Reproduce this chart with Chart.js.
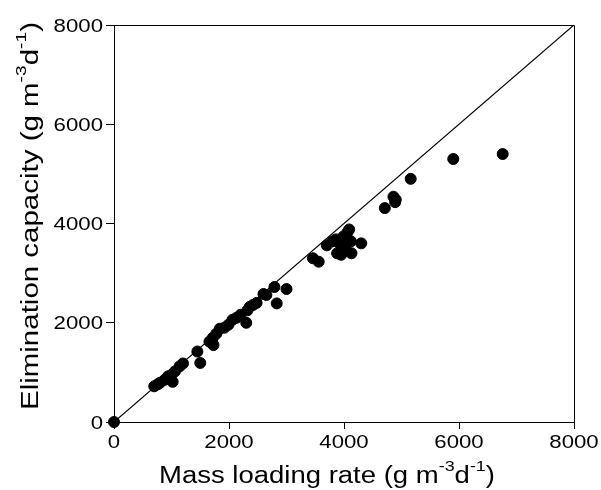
<!DOCTYPE html>
<html>
<head>
<meta charset="utf-8">
<script src="https://cdn.jsdelivr.net/npm/chart.js@4.4.1/dist/chart.umd.min.js"></script>
<style>
  html, body { margin: 0; padding: 0; background: #fff; }
  #wrap { width: 601px; height: 490px; }
</style>
</head>
<body>
<div id="wrap"><canvas id="chart" width="601" height="490"></canvas></div>
<script>
// --- DATA ---
const massLoading = [
  0,
  700, 760, 800, 880, 940, 1000, 1020, 1060, 1140, 1200,
  1450, 1500, 1660, 1730, 1720, 1780, 1840, 1920, 1990, 2060, 2130, 2200, 2300, 2320, 2360, 2420, 2480,
  2600, 2650, 2790, 2830, 3000,
  3460, 3560, 3700, 3800, 3860, 3880, 3920, 3950, 3990, 4000, 4040, 4060, 4090, 4120, 4130, 4300,
  4710, 4860, 4890, 4900, 5160, 5900, 6760
];
const eliminationCap = [
  0,
  720, 760, 790, 850, 920, 950, 810, 1020, 1120, 1180,
  1420, 1190, 1620, 1550, 1700, 1780, 1880, 1900, 1960, 2060, 2100, 2160, 2000, 2250, 2320, 2360, 2400,
  2580, 2560, 2720, 2390, 2680,
  3300, 3230, 3560, 3640, 3680, 3400, 3600, 3370, 3740, 3560, 3460, 3820, 3880, 3640, 3400, 3600,
  4310, 4540, 4430, 4480, 4900, 5300, 5400
];
const refLineX = [0, 8000];   // 1:1 line
const refLineY = [0, 8000];
const tickValues = [0, 2000, 4000, 6000, 8000];
const tickLabels = ['0', '2000', '4000', '6000', '8000'];

const FONT = '"Liberation Sans", Arial, sans-serif';
const WIDE = 1.2; // the original lettering is a bit wider than Arial

// draws tick labels and axis titles (with raised exponents), plus the top/right frame
const textPlugin = {
  id: 'texts',
  afterDraw(chart) {
    const ctx = chart.ctx;
    const area = chart.chartArea;
    const xs = chart.scales.x, ys = chart.scales.y;
    ctx.save();
    // frame top + right
    ctx.strokeStyle = '#000';
    ctx.lineWidth = 1;
    ctx.beginPath();
    ctx.moveTo(Math.round(area.left) + 0.5, Math.round(area.top) + 0.5);
    ctx.lineTo(Math.round(area.right) + 0.5, Math.round(area.top) + 0.5);
    ctx.lineTo(Math.round(area.right) + 0.5, Math.round(area.bottom) + 0.5);
    ctx.stroke();

    ctx.fillStyle = '#000';
    ctx.textBaseline = 'alphabetic';
    ctx.textAlign = 'left';

    // stretched text helper: draws str with its left end at (x, y)
    function wideText(str, x, y, size, sx) {
      ctx.save();
      ctx.font = size + 'px ' + FONT;
      ctx.translate(x, y);
      ctx.scale(sx, 1);
      ctx.fillText(str, 0, 0);
      ctx.restore();
      ctx.font = size + 'px ' + FONT;
      return ctx.measureText(str).width * sx;
    }
    function measure(str, size) {
      ctx.font = size + 'px ' + FONT;
      return ctx.measureText(str).width;
    }

    // tick labels
    tickValues.forEach((v, i) => {
      const t = tickLabels[i];
      const w = measure(t, 18.5) * WIDE;
      const px = xs.getPixelForValue(v);
      wideText(t, px - w / 2, 448, 18.5, WIDE);
      const py = ys.getPixelForValue(v);
      wideText(t, 103 - w, py + 6.7, 18.5, WIDE);
    });

    function titleParts(lead) {
      return [[lead + ' (g m', false], ['-3', true], ['d', false], ['-1', true], [')', false]];
    }
    function rawWidth(parts) {
      let w = 0;
      parts.forEach(p => { w += measure(p[0], p[1] ? 15 : 23); });
      return w;
    }
    function drawTitle(parts, x, y, sx) {
      let cx = x;
      parts.forEach(p => {
        cx += wideText(p[0], cx, p[1] ? y - 12 : y, p[1] ? 15 : 23, sx);
      });
    }

    // x title spans about 159..495 px
    const xParts = titleParts('Mass loading rate');
    const xsx = 336 / rawWidth(xParts);
    drawTitle(xParts, 159, 483, xsx);

    // y title runs from y=410 up to y=22, baseline at x=38
    const yParts = titleParts('Elimination capacity');
    const ysx = 388 / rawWidth(yParts);
    ctx.translate(38, 410);
    ctx.rotate(-Math.PI / 2);
    drawTitle(yParts, 0, 0, ysx);
    ctx.restore();
  }
};

const points = massLoading.map((x, i) => ({ x: x, y: eliminationCap[i] }));
const linePts = refLineX.map((x, i) => ({ x: x, y: refLineY[i] }));

const axisCommon = {
  type: 'linear',
  min: 0,
  max: 8000,
  afterBuildTicks: axis => { axis.ticks = tickValues.map(v => ({ value: v })); },
  border: { color: '#000', width: 1 },
  ticks: { color: 'rgba(0,0,0,0)', font: { family: FONT, size: 18 }, maxRotation: 0 }
};

new Chart(document.getElementById('chart'), {
  type: 'scatter',
  data: {
    datasets: [
      {
        label: 'EC vs MLR',
        data: points,
        backgroundColor: '#000',
        borderColor: '#000',
        pointRadius: 5.5,
        pointBorderWidth: 1,
        clip: false
      },
      {
        type: 'line',
        label: '1:1',
        data: linePts,
        borderColor: '#000',
        borderWidth: 1.2,
        pointRadius: 0,
        fill: false
      }
    ]
  },
  options: {
    responsive: false,
    animation: false,
    devicePixelRatio: 1,
    layout: { padding: { left: 0, right: 27, top: 25, bottom: 0 } },
    plugins: { legend: { display: false }, tooltip: { enabled: false } },
    scales: {
      x: Object.assign({}, axisCommon, {
        position: 'bottom',
        grid: { drawOnChartArea: false, drawTicks: true, color: '#000', tickLength: 7, tickColor: '#000' },
        afterFit: scale => { scale.height = 68; }
      }),
      y: Object.assign({}, axisCommon, {
        position: 'left',
        grid: { drawOnChartArea: false, drawTicks: true, color: '#000', tickLength: 8, tickColor: '#000' },
        afterFit: scale => { scale.width = 114; }
      })
    }
  },
  plugins: [textPlugin]
});
</script>
</body>
</html>
